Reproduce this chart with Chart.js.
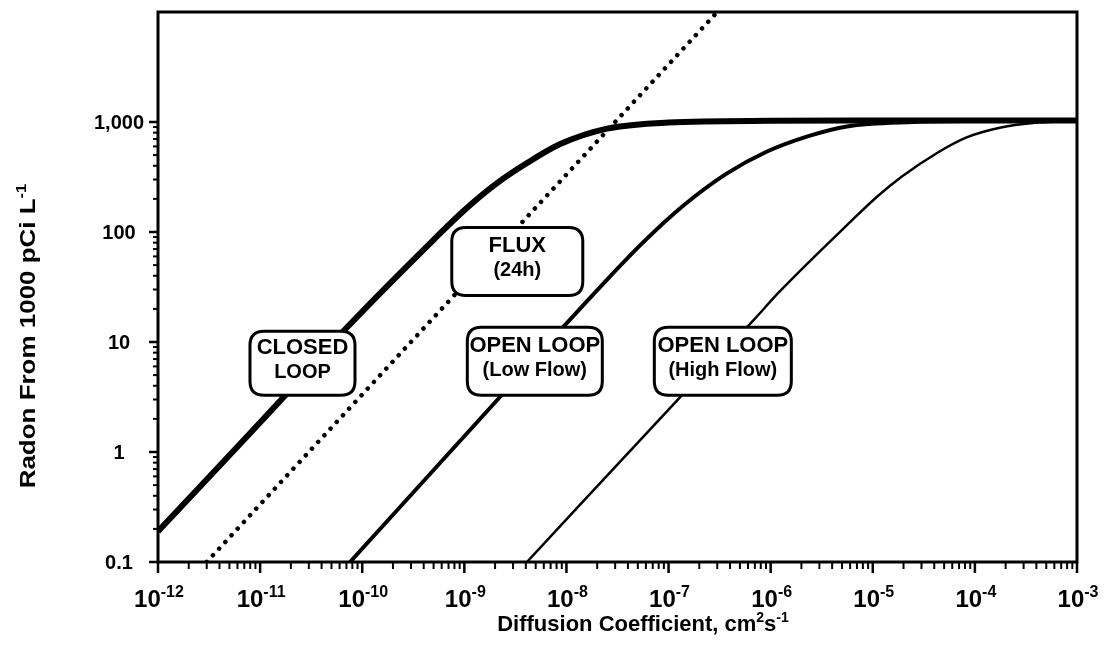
<!DOCTYPE html>
<html>
<head>
<meta charset="utf-8">
<script src="https://cdn.jsdelivr.net/npm/chart.js@4.4.0/dist/chart.umd.min.js"></script>
<style>
  html, body { margin: 0; padding: 0; background: #fff; }
  #wrap { width: 1111px; height: 667px; position: relative; }
</style>
</head>
<body>
<div id="wrap"><canvas id="chart"></canvas></div>
<script>
// values: diffusion coefficient (cm2/s) vs radon (pCi/L)
const closedLoopD = [1e-12, 1.6e-11, 7e-11, 5e-10, 1e-9, 2e-9, 4e-9, 8.7e-9, 2.5e-8, 1e-7, 1e-6, 1e-5, 1e-4, 1e-3];
const closedLoopC = [0.19, 2.97, 13.4, 85, 158, 270, 417, 630, 870, 990, 1025, 1030, 1030, 1030];

const lowFlowD = [7.6e-11, 2.1e-9, 9.3e-9, 2.3e-8, 5.6e-8, 1.4e-7, 3.7e-7, 9.1e-7, 2.3e-6, 5.6e-6, 2.5e-5, 1e-4, 1e-3];
const lowFlowC = [0.1, 2.97, 13.7, 34, 80, 174, 339, 537, 741, 912, 1000, 1022, 1030];

const highFlowD = [4.1e-9, 1.3e-7, 6.8e-7, 1.2e-6, 6e-6, 1.1e-5, 1.9e-5, 4.3e-5, 8.3e-5, 1.8e-4, 3.7e-4, 1e-3];
const highFlowC = [0.1, 3.16, 15.8, 28.2, 123, 209, 316, 525, 724, 891, 977, 1020];

const fluxD = [3e-12, 3e-7];
const fluxC = [0.1, 10000];

// axis ticks
const xTickExps = [-12, -11, -10, -9, -8, -7, -6, -5, -4, -3];
const yTickValues = [0.1, 1, 10, 100, 1000];
const yTickLabels = ['0.1', '1', '10', '100', '1,000'];

// boxed notes, anchored in data units
const noteLines = [['CLOSED', 'LOOP'], ['FLUX', '(24h)'], ['OPEN LOOP', '(Low Flow)'], ['OPEN LOOP', '(High Flow)']];
const noteD = [2.6e-11, 3.3e-9, 4.9e-9, 3.4e-7];
const noteC = [6.4, 54, 6.7, 6.7];

const FONT = '"Liberation Sans", Arial, sans-serif';
const noteSize = [[105, 64], [131, 68], [135, 68], [137, 68]];

const toXY = (ds, cs) => ds.map((d, i) => ({x: d, y: cs[i]}));

// draw a row of text pieces (for superscripts)
const drawRich = (ctx, parts, x, y, align) => {
    let total = 0;
    parts.forEach(p => {
        ctx.font = 'bold ' + p.size + 'px ' + FONT;
        p.w = ctx.measureText(p.t).width;
        total += p.w;
    });
    let cx = align === 'center' ? x - total / 2 : x;
    ctx.textAlign = 'left';
    ctx.textBaseline = 'alphabetic';
    parts.forEach(p => {
        ctx.font = 'bold ' + p.size + 'px ' + FONT;
        ctx.fillText(p.t, cx, y + (p.dy || 0));
        cx += p.w;
    });
}

const roundRect = (ctx, x, y, w, h, r) => {
    ctx.beginPath();
    ctx.moveTo(x + r, y);
    ctx.lineTo(x + w - r, y);
    ctx.quadraticCurveTo(x + w, y, x + w, y + r);
    ctx.lineTo(x + w, y + h - r);
    ctx.quadraticCurveTo(x + w, y + h, x + w - r, y + h);
    ctx.lineTo(x + r, y + h);
    ctx.quadraticCurveTo(x, y + h, x, y + h - r);
    ctx.lineTo(x, y + r);
    ctx.quadraticCurveTo(x, y, x + r, y);
    ctx.closePath();
}

const notesPlugin = {
    id: 'notes',
    afterDatasetsDraw(chart) {
        const ctx = chart.ctx;
        const xs = chart.scales.x, ys = chart.scales.y;
        ctx.save();
        for (let i = 0; i < noteLines.length; i++) {
            const cx = xs.getPixelForValue(noteD[i]);
            const cy = ys.getPixelForValue(noteC[i]);
            const w = noteSize[i][0], h = noteSize[i][1];
            roundRect(ctx, cx - w / 2, cy - h / 2, w, h, 14);
            ctx.fillStyle = '#fff';
            ctx.fill();
            ctx.lineWidth = 3;
            ctx.strokeStyle = '#000';
            ctx.stroke();
            ctx.fillStyle = '#000';
            drawRich(ctx, [{t: noteLines[i][0], size: 22}], cx, cy - 9, 'center');
            drawRich(ctx, [{t: noteLines[i][1], size: 20}], cx, cy + 15, 'center');
        }
        ctx.restore();
    }
};

const axesPlugin = {
    id: 'axesDraw',
    afterDraw(chart) {
        const ctx = chart.ctx;
        const a = chart.chartArea;
        const xs = chart.scales.x, ys = chart.scales.y;
        ctx.save();
        ctx.strokeStyle = '#000';
        ctx.fillStyle = '#000';

        // frame
        ctx.lineWidth = 3;
        ctx.strokeRect(a.left, a.top, a.right - a.left, a.bottom - a.top);

        // x ticks
        for (let k = 0; k < xTickExps.length; k++) {
            const e = xTickExps[k];
            const px = xs.getPixelForValue(Math.pow(10, e));
            ctx.lineWidth = 2.5;
            ctx.beginPath(); ctx.moveTo(px, a.bottom); ctx.lineTo(px, a.bottom + 11); ctx.stroke();
            if (k < xTickExps.length - 1) {
                for (let m = 2; m <= 9; m++) {
                    const mx = xs.getPixelForValue(m * Math.pow(10, e));
                    ctx.lineWidth = 2;
                    ctx.beginPath(); ctx.moveTo(mx, a.bottom); ctx.lineTo(mx, a.bottom + 7); ctx.stroke();
                }
            }
            drawRich(ctx, [{t: '10', size: 24}, {t: String(e), size: 16, dy: -10}], px + 1, 607, 'center');
        }

        // y ticks
        for (let k = 0; k < yTickValues.length; k++) {
            const v = yTickValues[k];
            const py = ys.getPixelForValue(v);
            ctx.lineWidth = 2.5;
            ctx.beginPath(); ctx.moveTo(a.left - 9, py); ctx.lineTo(a.left, py); ctx.stroke();
            if (k < yTickValues.length - 1) {
                for (let m = 2; m <= 9; m++) {
                    const my = ys.getPixelForValue(m * v);
                    ctx.lineWidth = 2;
                    ctx.beginPath(); ctx.moveTo(a.left - 5, my); ctx.lineTo(a.left, my); ctx.stroke();
                }
            }
            ctx.font = 'bold 20px ' + FONT;
            ctx.textAlign = 'center';
            ctx.textBaseline = 'middle';
            ctx.fillText(yTickLabels[k], 119, py + 1);
        }

        // axis titles
        drawRich(ctx, [{t: 'Diffusion Coefficient, cm', size: 22}, {t: '2', size: 14, dy: -9},
                       {t: 's', size: 22}, {t: '-1', size: 14, dy: -9}], 643, 631, 'center');
        ctx.translate(35, 336);
        ctx.rotate(-Math.PI / 2);
        ctx.scale(1.18, 1);
        drawRich(ctx, [{t: 'Radon From 1000 pCi L', size: 22}, {t: '-1', size: 14, dy: -9}], 0, 0, 'center');
        ctx.restore();
    }
};

const config = {
    type: 'line',
    data: {
        datasets: [
            {
                label: 'CLOSED LOOP',
                data: toXY(closedLoopD, closedLoopC),
                borderColor: '#000',
                borderWidth: 6,
                cubicInterpolationMode: 'monotone'
            },
            {
                label: 'OPEN LOOP (Low Flow)',
                data: toXY(lowFlowD, lowFlowC),
                borderColor: '#000',
                borderWidth: 4,
                cubicInterpolationMode: 'monotone'
            },
            {
                label: 'OPEN LOOP (High Flow)',
                data: toXY(highFlowD, highFlowC),
                borderColor: '#000',
                borderWidth: 2.5,
                cubicInterpolationMode: 'monotone'
            },
            {
                label: 'FLUX (24h)',
                data: toXY(fluxD, fluxC),
                borderColor: '#000',
                borderWidth: 4.5,
                borderDash: [0.1, 9],
                borderCapStyle: 'round'
            }
        ]
    },
    options: {
        responsive: true,
        maintainAspectRatio: false,
        animation: false,
        layout: { padding: { left: 158, top: 12, right: 34, bottom: 105 } },
        elements: { point: { radius: 0 } },
        plugins: { legend: { display: false }, tooltip: { enabled: false } },
        scales: {
            x: { type: 'logarithmic', min: 1e-12, max: 1e-3, display: false },
            y: { type: 'logarithmic', min: 0.1, max: 10000, display: false }
        }
    },
    plugins: [notesPlugin, axesPlugin]
};

let chart = new Chart(document.getElementById('chart').getContext('2d'), config);
</script>
</body>
</html>
